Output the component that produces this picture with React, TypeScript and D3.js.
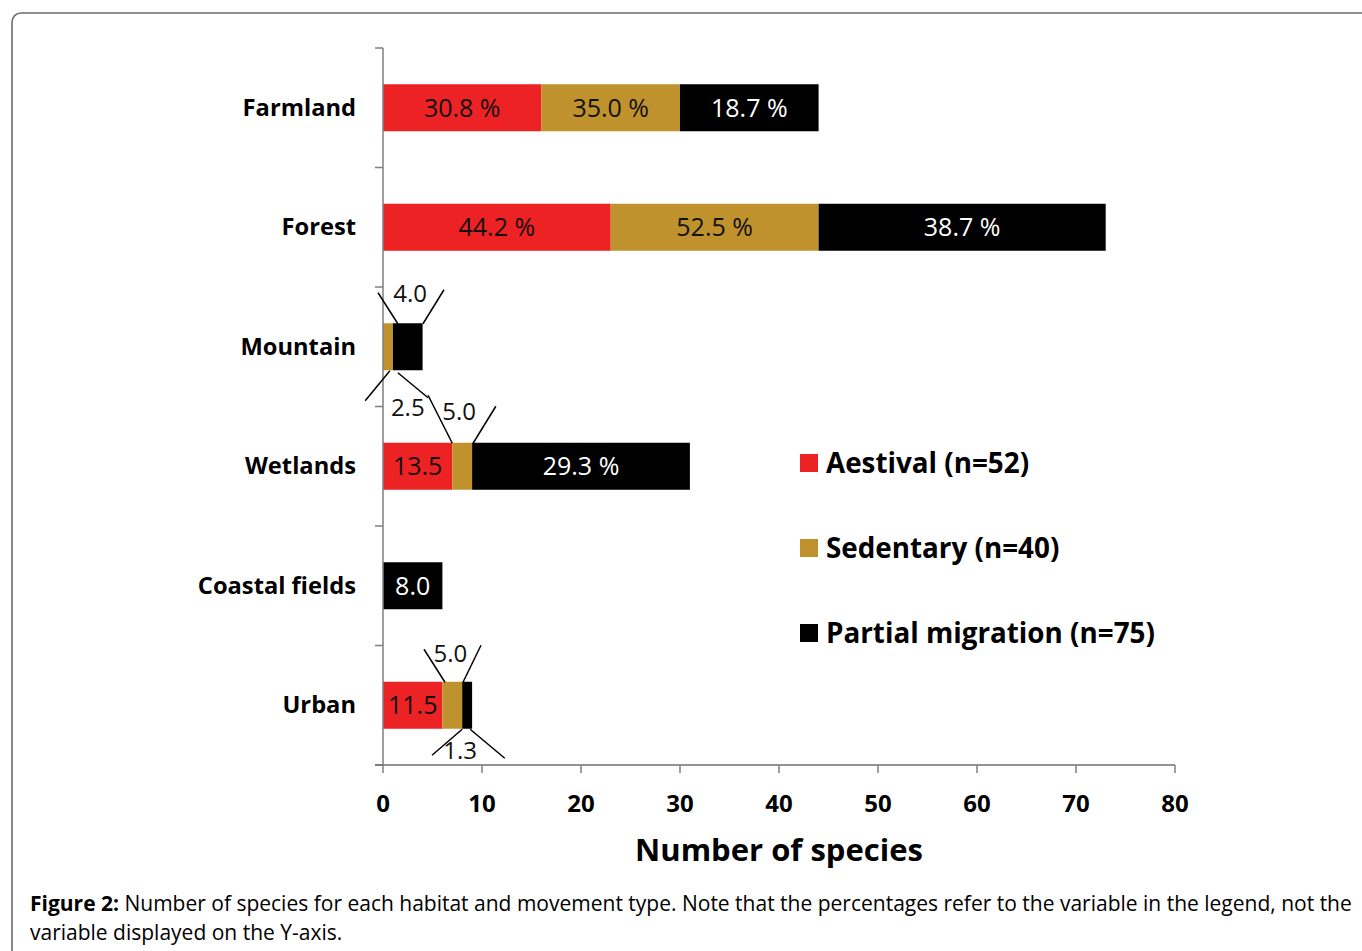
import React from "react";
import * as d3 from "d3";

const categories = ["Farmland", "Forest", "Mountain", "Wetlands", "Coastal fields", "Urban"];
const seriesNames = ["Aestival (n=52)", "Sedentary (n=40)", "Partial migration (n=75)"];
const seriesColors = ["#ED2224", "#C0922E", "#000000"];
const aestival = [16, 23, 0, 7, 0, 6];
const sedentary = [14, 21, 1, 2, 0, 2];
const partial = [14, 29, 3, 22, 6, 1];
const xTicks = [0, 10, 20, 30, 40, 50, 60, 70, 80];

// inside-bar labels: [category index, series index, text]
const barLabels: [number, number, string][] = [
  [0, 0, "30.8 %"], [0, 1, "35.0 %"], [0, 2, "18.7 %"],
  [1, 0, "44.2 %"], [1, 1, "52.5 %"], [1, 2, "38.7 %"],
  [3, 0, "13.5"], [3, 2, "29.3 %"],
  [4, 2, "8.0"],
  [5, 0, "11.5"],
];

// callouts: category, text, label centre (value, px offset), leader lines [boxX, boxDy, tgtX, tgtDy]
type Callout = { cat: number; text: string; cx: number; cy: number; lines: [number, number, number, number][] };
const callouts: Callout[] = [
  { cat: 2, text: "4.0", cx: 2.75, cy: -54, lines: [[-0.5, -54, 1.5, -23], [6.16, -57, 4.04, -23]] },
  { cat: 2, text: "2.5", cx: 2.5, cy: 60, lines: [[-1.8, 54, 0.7, 24], [4.55, 51, 1.5, 26]] },
  { cat: 3, text: "5.0", cx: 7.7, cy: -56, lines: [[4.55, -71, 7.0, -23], [11.4, -60, 9.1, -23]] },
  { cat: 5, text: "5.0", cx: 6.8, cy: -53, lines: [[4.14, -56, 6.26, -23], [9.9, -60, 8.08, -23]] },
  { cat: 5, text: "1.3", cx: 7.8, cy: 44, lines: [[4.95, 50, 8.0, 24], [12.3, 53, 8.8, 24]] },
];

const W = 1362;
const H = 951;
const left = 383;
const right = 1175;
const top = 48;
const bottom = 765;
const barH = 47;

const font = "'Open Sans', Lato, sans-serif";

export default function App() {
  const x = d3.scaleLinear().domain([0, 80]).range([left, right]);
  const y = d3.scaleBand<string>().domain(categories).range([top, bottom]);
  const values = [aestival, sedentary, partial];
  const stacked = d3.stack<number>().keys(["0", "1", "2"]).value((i, k) => values[+k][i])(
    categories.map((_, i) => i)
  );
  const cy = (i: number) => (y(categories[i]) as number) + y.bandwidth() / 2;
  const boundaries = [...categories.map((c) => y(c) as number), bottom];

  return (
    <svg width={W} height={H} style={{ position: "absolute", left: 0, top: 0, background: "#fff" }}>
      <rect x={12} y={13} width={1420} height={1000} rx={9} fill="#fff" stroke="#6b6b6b" strokeWidth={1.6} />

      {/* bars */}
      {stacked.map((s, si) =>
        s.map((d, i) =>
          d[1] - d[0] > 0 ? (
            <rect
              key={`${si}-${i}`}
              x={x(d[0])}
              y={cy(i) - barH / 2}
              width={x(d[1]) - x(d[0])}
              height={barH}
              fill={seriesColors[si]}
            />
          ) : null
        )
      )}

      {/* axes */}
      <line x1={left} x2={left} y1={top} y2={bottom} stroke="#7f7f7f" strokeWidth={1.5} />
      {boundaries.map((b, i) => (
        <line key={i} x1={left - 8} x2={left} y1={b} y2={b} stroke="#7f7f7f" strokeWidth={1.5} />
      ))}
      <line x1={left - 8} x2={right} y1={bottom} y2={bottom} stroke="#6f6f6f" strokeWidth={1.5} />
      {xTicks.map((t) => (
        <g key={t}>
          <line x1={x(t)} x2={x(t)} y1={bottom} y2={bottom + 8} stroke="#7f7f7f" strokeWidth={1.5} />
          <text x={x(t)} y={802} textAnchor="middle" dominantBaseline="central" fontFamily={font} fontWeight={700} fontSize={24} fill="#000">
            {t}
          </text>
        </g>
      ))}
      <text x={779} y={849} textAnchor="middle" dominantBaseline="central" fontFamily={font} fontWeight={700} fontSize={31} fill="#000">
        Number of species
      </text>

      {/* category labels */}
      {categories.map((c, i) => (
        <text key={c} x={356} y={cy(i) - 1} textAnchor="end" dominantBaseline="central" fontFamily={font} fontWeight={700} fontSize={23.7} fill="#000">
          {c}
        </text>
      ))}

      {/* bar labels */}
      {barLabels.map(([ci, si, t]) => {
        const d = stacked[si][ci];
        return (
          <text key={`${ci}-${si}`} x={(x(d[0]) + x(d[1])) / 2} y={cy(ci) - 1} textAnchor="middle" dominantBaseline="central" fontFamily={font} fontSize={25} fill={si === 2 ? "#fff" : "#111"}>
            {t}
          </text>
        );
      })}

      {/* callouts */}
      {callouts.map((c, k) => (
        <g key={k}>
          {c.lines.map((l, j) => (
            <line key={j} x1={x(l[0])} y1={cy(c.cat) + l[1]} x2={x(l[2])} y2={cy(c.cat) + l[3]} stroke="#000" strokeWidth={1.5} />
          ))}
          <text x={x(c.cx)} y={cy(c.cat) + c.cy} textAnchor="middle" dominantBaseline="central" fontFamily={font} fontSize={24} fill="#111">
            {c.text}
          </text>
        </g>
      ))}

      {/* legend */}
      {seriesNames.map((n, i) => (
        <g key={n}>
          <rect x={800} y={454 + i * 85} width={18} height={18} fill={seriesColors[i]} />
          <text x={826} y={462 + i * 85} dominantBaseline="central" fontFamily={font} fontWeight={700} fontSize={27.8} fill="#000">
            {n}
          </text>
        </g>
      ))}

      {/* caption */}
      <text x={30} y={911} fontFamily={font} fontSize={21} fill="#000">
        <tspan fontWeight={700}>Figure 2:</tspan>
        <tspan> Number of species for each habitat and movement type. Note that the percentages refer to the variable in the legend, not the</tspan>
      </text>
      <text x={30} y={940} fontFamily={font} fontSize={21} fill="#000">
        variable displayed on the Y-axis.
      </text>
    </svg>
  );
}
